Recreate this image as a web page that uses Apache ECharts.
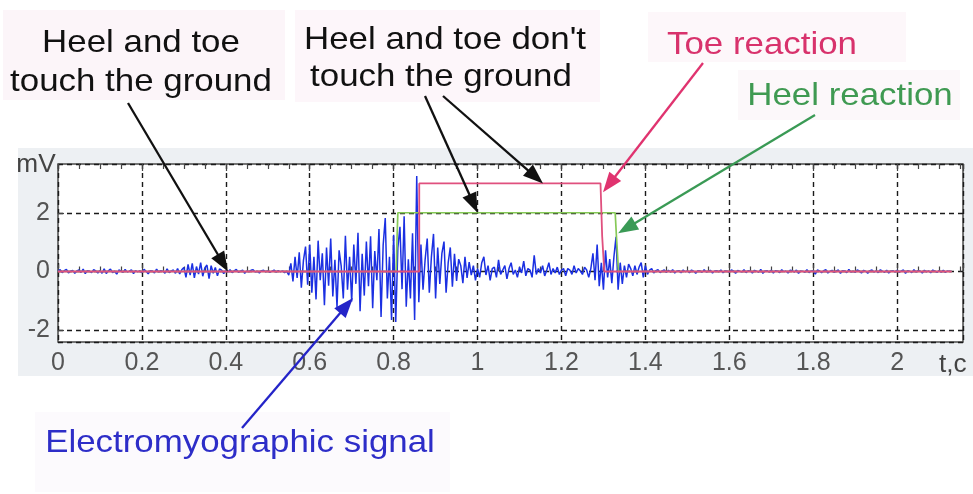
<!DOCTYPE html>
<html>
<head>
<meta charset="utf-8">
<script src="https://cdn.jsdelivr.net/npm/echarts@6/dist/echarts.min.js"></script>
<style>
html,body{margin:0;padding:0;background:#fff}
#chart{width:973px;height:494px}
</style>
</head>
<body>
<div id="chart"></div>
<script>
// EMG samples, mV, spaced emgStep seconds apart starting at t = 0
const emgStep = 0.005;
const emgValues = [
  0.02,0.06,-0.04,0.03,0.07,-0.05,0.01,0.04,-0.06,0.02,0.05,-0.03,0.08,-0.07,0.03,0.01,-0.04,0.06,0.02,-0.05,
  0.03,-0.06,0.09,-0.07,0.02,0.08,-0.04,0.01,-0.09,0.05,0.02,-0.03,0.07,-0.02,0.01,0.06,-0.07,0.03,-0.01,0.02,
  -0.04,0.07,0.01,-0.08,0.03,0.02,-0.05,0.08,-0.02,0.03,0.01,-0.06,0.09,-0.04,0.02,0.05,-0.06,0.1,-0.08,0.06,
  0.14,-0.2,0.24,-0.12,0.28,-0.22,0.17,-0.09,0.3,-0.16,0.12,0.22,-0.24,0.2,-0.06,0.14,-0.15,0.09,0.05,-0.07,
  0.03,-0.02,0.06,-0.04,0.02,0.07,-0.03,0.01,0.05,-0.06,0.02,-0.01,0.04,0.06,-0.02,0.01,-0.05,0.03,0.04,-0.01,
  0.02,-0.03,0.01,0.05,-0.02,0.03,-0.01,0.02,-0.04,0.01,-0.12,0.28,-0.34,0.5,-0.22,0.65,-0.55,0.38,0.85,-0.45,
  0.92,-0.72,0.5,-0.95,1.05,-0.3,0.62,-1.15,0.82,-0.48,1.12,-0.85,0.4,-1.22,0.72,0.18,-0.92,1.22,-0.62,0.5,
  -1.02,0.92,-0.42,1.32,-1.35,0.6,-0.82,1.02,-0.5,1.2,-1.25,0.7,-0.3,1.45,-1.55,0.9,1.82,-0.92,0.5,-1.65,
  1.25,-1.72,0.8,1.52,-0.6,1.88,-1.2,0.42,-0.92,1.3,-1.65,3.25,-1.05,0.92,-0.62,0.4,1.12,-0.72,0.5,1.28,
  -0.92,0.82,-0.42,0.62,1.02,-0.72,0.3,0.82,-0.52,0.6,-0.32,0.42,0.2,-0.4,0.5,-0.22,0.32,-0.12,0.2,-0.3,
  0.1,-0.2,0.3,0.5,-0.12,0.2,-0.3,0.1,0.15,-0.2,0.4,-0.1,0.05,0.2,-0.25,0.1,0.3,-0.1,0.05,-0.2,
  0.15,-0.05,0.35,-0.15,0.1,0.05,-0.2,0.55,-0.1,0.1,-0.05,0.2,-0.15,0.05,0.3,-0.1,0.1,-0.05,0.15,-0.1,
  0.05,0.1,-0.15,0.1,0.05,-0.1,0.2,-0.05,0.1,0.02,-0.1,0.15,0.05,-0.2,0.1,0.62,-0.3,0.92,-0.5,0.3,
  -0.62,0.72,-0.2,0.42,-0.4,0.5,1.18,-0.62,0.3,-0.42,0.2,-0.2,0.25,0.1,-0.15,0.2,-0.1,0.15,0.3,-0.2,
  0.2,-0.1,0.05,0.1,-0.05,0.03,0.06,-0.04,0.02,0.05,-0.03,0.04,-0.02,0.06,-0.05,0.02,0.03,-0.04,0.05,-0.01,
  0.02,-0.04,0.05,0.01,-0.06,0.03,0.02,-0.03,0.06,-0.02,0.01,0.04,-0.05,0.02,0.03,-0.01,0.05,-0.04,0.02,0.01,
  -0.03,0.05,0.02,-0.06,0.04,0.01,-0.02,0.06,-0.04,0.03,0.02,-0.05,0.04,0.01,-0.03,0.07,-0.06,0.02,0.03,-0.02,
  0.04,-0.05,0.03,0.02,-0.04,0.06,-0.01,0.02,-0.05,0.04,0.03,-0.02,0.05,-0.06,0.02,0.01,-0.03,0.06,-0.04,0.02,
  0.03,-0.09,0.05,0.02,-0.04,0.03,0.06,-0.05,0.01,0.04,-0.03,0.02,0.05,-0.06,0.03,0.02,-0.04,0.07,-0.02,0.01,
  -0.03,0.05,0.02,-0.05,0.04,0.01,-0.06,0.03,0.05,-0.02,0.02,-0.04,0.06,0.01,-0.03,0.04,-0.05,0.02,0.03,-0.02,
  0.04,-0.03,0.02,0.05,-0.06,0.03,0.01,-0.04,0.06,-0.02,0.03,0.02,-0.05,0.04,-0.01,0.02,-0.04,0.05,0.01,-0.03,
  0.03,-0.02,0.04,-0.03,0.02,0.01,0.0
];

// Toe contact sensor trace (time s, level mV)
const toeTime  = [0, 0.861, 0.861, 1.293, 1.297, 1.302, 2.13];
const toeValue = [0, 0,     3,     3,     1.2,   0,     0];

// Heel contact sensor trace
const heelTime  = [0, 0.806, 0.808, 0.81, 1.328, 1.331, 1.336, 2.13];
const heelValue = [0, 0,     1.1,   2,    2,     1.2,   0,     0];

// Callout labels and the points they point at (time s, mV)
const calloutTipT = [0.405, 1.0, 1.156, 1.299, 1.335, 0.703];
const calloutTipV = [0,     2,   3,     2.7,   1.3,   -0.9];

const FONT = '"Liberation Sans", Arial, sans-serif';

const emgData  = emgValues.map((v, i) => [+(i * emgStep).toFixed(3), v]);
const toeData  = toeTime.map((t, i) => [t, toeValue[i]]);
const heelData = heelTime.map((t, i) => [t, heelValue[i]]);

const chart = echarts.init(document.getElementById('chart'), null, {renderer: 'canvas'});

const tickStyle = {color: '#444', width: 1.2};

chart.setOption({
  animation: false,
  backgroundColor: '#ffffff',
  grid: {
    left: 58, top: 164, right: 10, bottom: 152,
    show: true, backgroundColor: '#ffffff',
    borderColor: '#4a4a4a', borderWidth: 1.5
  },
  xAxis: [
    {
      type: 'value', min: 0, max: 2.157, interval: 0.2, position: 'bottom',
      axisLine: {show: false},
      axisTick: {show: true, inside: true, length: 7, lineStyle: tickStyle},
      minorTick: {show: true, splitNumber: 4, length: 5, lineStyle: tickStyle},
      splitLine: {show: true, lineStyle: {type: [5, 4], color: '#1a1a1a', width: 1.4}},
      axisLabel: {showMaxLabel: false, fontSize: 25, color: '#555', margin: 9, fontFamily: FONT}
    },
    {
      type: 'value', min: 0, max: 2.157, interval: 0.2, position: 'top',
      axisLine: {show: false},
      axisTick: {show: true, inside: true, length: 7, lineStyle: tickStyle},
      minorTick: {show: true, splitNumber: 4, length: 5, lineStyle: tickStyle},
      splitLine: {show: false},
      axisLabel: {show: false}
    }
  ],
  yAxis: {
    type: 'value', min: -2.4, max: 3.66, splitNumber: 3,
    axisLine: {show: false},
    axisTick: {show: true, inside: true, length: 6, lineStyle: tickStyle},
    splitLine: {show: true, lineStyle: {type: [5, 4], color: '#1a1a1a', width: 1.4}},
    axisLabel: {showMinLabel: false, showMaxLabel: false, fontSize: 25, color: '#555', margin: 8, fontFamily: FONT}
  },
  series: [
    {
      name: 'EMG', type: 'line', data: emgData, showSymbol: false,
      lineStyle: {color: '#1b30e2', width: 1.5}, z: 2
    },
    {
      name: 'Heel', type: 'line', data: heelData, showSymbol: false,
      lineStyle: {color: '#86c957', width: 1.7}, z: 3
    },
    {
      name: 'Toe', type: 'line', data: toeData, showSymbol: false,
      lineStyle: {color: '#e0507e', width: 1.8}, z: 4
    }
  ]
});

// Callout arrows: tail in page pixels, head at a data point
const calloutTails = [[128, 103], [425, 96], [443, 96], [703, 63], [815, 115], [242, 428]];
const calloutColors = ['#111', '#111', '#111', '#e0336f', '#3a9a55', '#2424c8'];

function arrow(x1, y1, x2, y2, color) {
  const dx = x2 - x1, dy = y2 - y1;
  const len = Math.sqrt(dx * dx + dy * dy);
  const ux = dx / len, uy = dy / len;
  const L = 20, W = 7.5;
  const bx = x2 - ux * L, by = y2 - uy * L;
  return [
    {type: 'line', shape: {x1: x1, y1: y1, x2: bx + ux * 2, y2: by + uy * 2},
     style: {stroke: color, lineWidth: 2.3}, z: 50},
    {type: 'polygon', shape: {points: [[x2, y2], [bx - uy * W, by + ux * W], [bx + uy * W, by - ux * W]]},
     style: {fill: color}, z: 50}
  ];
}

// Text drawn slightly wide, as in the figure's lettering
function label(text, x, y, color, size, align, sx) {
  return {
    type: 'text', z: 40, x: x, y: y, scaleX: sx || 1.09,
    style: {text: text, x: 0, y: 0, fill: color, font: size + 'px ' + FONT,
            textAlign: align || 'center', textVerticalAlign: 'middle'}
  };
}

function box(x, y, w, h, fill) {
  return {type: 'rect', z: -5, shape: {x: x, y: y, width: w, height: h}, style: {fill: fill}};
}

const elements = [
  {type: 'rect', z: -20, silent: true, shape: {x: 18, y: 148, width: 960, height: 228}, style: {fill: '#edf0f3'}},
  box(3, 10, 282, 90, '#fcf5f9'),
  box(295, 10, 305, 92, '#fdf6fa'),
  box(648, 12, 258, 50, '#fdf7fa'),
  box(738, 70, 222, 50, '#fcf8fa'),
  box(35, 412, 415, 80, '#fcfafd'),
  label('Heel and toe', 141, 43, '#111', 32),
  label('touch the ground', 141, 82, '#111', 32),
  label("Heel and toe don't", 445, 40, '#111', 32),
  label('touch the ground', 441, 77, '#111', 32),
  label('Toe reaction', 762, 45, '#d8326c', 32),
  label('Heel reaction', 850, 96, '#3f9a52', 32),
  label('Electromyographic signal', 240, 443, '#2d2dc8', 32),
  label('mV', 36, 165, '#444', 25, 'center', 1.05),
  label('t,c', 939, 365, '#444', 25, 'left', 1.05)
];

calloutTipT.forEach((t, i) => {
  const p = chart.convertToPixel({gridIndex: 0}, [t, calloutTipV[i]]);
  const tail = calloutTails[i];
  arrow(tail[0], tail[1], p[0], p[1], calloutColors[i]).forEach(e => elements.push(e));
});

chart.setOption({graphic: {elements: elements}});
</script>
</body>
</html>
